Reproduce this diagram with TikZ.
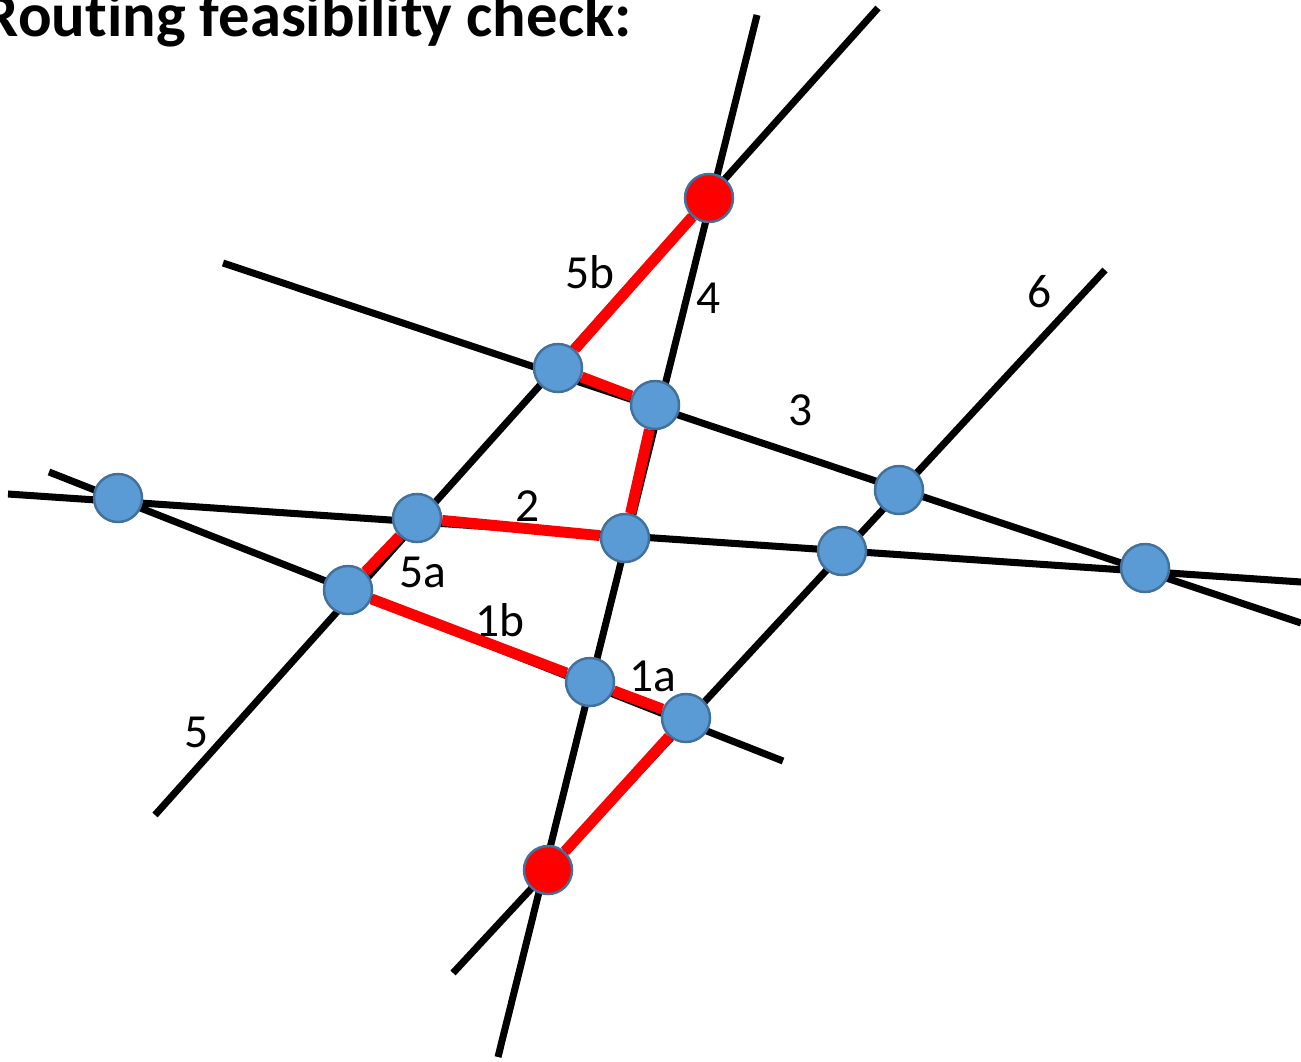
\documentclass[tikz,border=0pt]{standalone}
\usepackage{fontspec}
\setmainfont{Carlito}[Ligatures=NoCommon]
\usetikzlibrary{positioning,calc}
\definecolor{pinblue}{RGB}{91,155,213}
\definecolor{pinedge}{RGB}{65,113,156}

\begin{document}
\begin{tikzpicture}[x=0.01cm,y=-0.01cm,wire/.style={line width=2pt,black},route/.style={line width=3.1pt,red},pin/.style={circle,draw=pinedge,line width=0.7pt,fill=pinblue,minimum size=0.48cm,inner sep=0pt},term/.style={pin,fill=red},lbl/.style={font=\fontsize{13.5}{16}\selectfont,inner sep=0pt}]
\useasboundingbox (0,0) rectangle (1301,1061); \clip (0,0) rectangle (1301,1061);
% track end points
\coordinate (l1a) at (49,472); \coordinate (l1b) at (783,761); \coordinate (l2a) at (8,494); \coordinate (l2b) at (1301,582);
\coordinate (l3a) at (223,263); \coordinate (l3b) at (1301,623); \coordinate (l4a) at (757,15); \coordinate (l4b) at (498,1057);
\coordinate (l5a) at (878,8); \coordinate (l5b) at (155,815); \coordinate (l6a) at (1105,270); \coordinate (l6b) at (453,973);
\foreach \i in {1,...,6} \draw[wire](l\i a)--(l\i b);
% vias
\node[pin] (n12) at (118,498) {}; \node[pin] (n15) at (348,590) {}; \node[pin] (n14) at (590,682) {}; \node[pin] (n16) at (686,718) {};
\node[pin] (n25) at (417,518) {}; \node[pin] (n24) at (625,538) {}; \node[pin] (n26) at (842,551) {}; \node[pin] (n23) at (1145,568) {};
\node[pin] (n35) at (558,368) {}; \node[pin] (n34) at (655,405) {}; \node[pin] (n36) at (899,490) {};
\node[term] (t45) at (709,198) {}; \node[term] (t46) at (548,870) {};
% route
\draw[route](t45)--(n35); \draw[route](n35)--(n34); \draw[route](n34)--(n24); \draw[route](n24)--(n25);
\draw[route](n25)--(n15); \draw[route](n15)--(n14); \draw[route](n14)--(n16); \draw[route](n16)--(t46);
% labels
\node[lbl] (k5b) at (590,272) {5b}; \node[lbl] (k4) at (709,298) {4}; \node[lbl] (k6) at (1040,292) {6}; \node[lbl] (k3) at (801,410) {3};
\node[lbl] (k2) at (528,506) {2}; \node[lbl] (k5a) at (423,572) {5a}; \node[lbl] (k1b) at (500,620) {1b}; \node[lbl] (k1a) at (653,676) {1a};
\node[lbl] (k5) at (197,732) {5};
\node[font=\fontsize{17.8}{21}\selectfont\bfseries,anchor=base east,inner sep=0pt] (title) at (632,37) {Routing feasibility check:};
\end{tikzpicture}
\end{document}
